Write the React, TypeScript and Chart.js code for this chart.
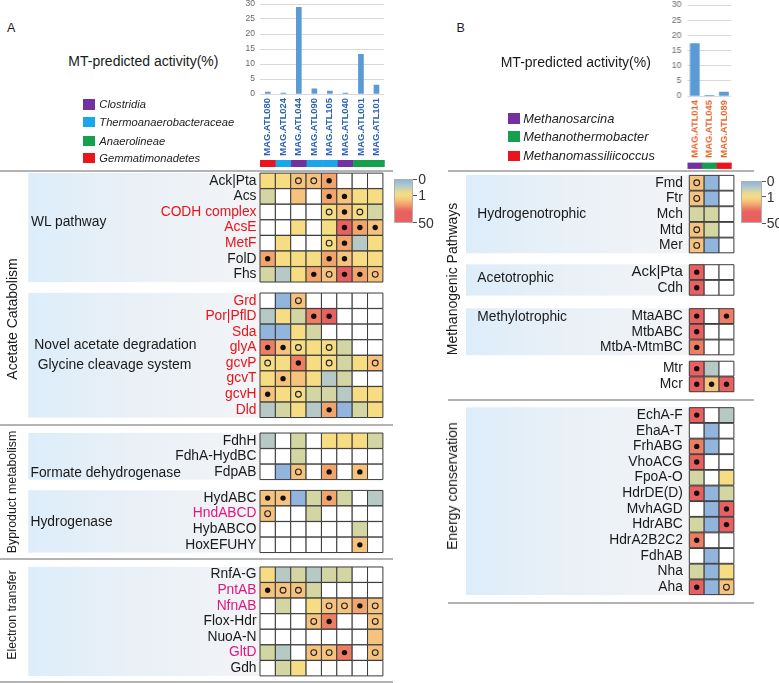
import React, { useEffect, useRef } from "react";
import { Chart, registerables } from "chart.js";

Chart.register(...registerables);

const FONT = '"Liberation Sans", Arial, Helvetica, sans-serif';
Chart.defaults.font.family = FONT;

// ---------------- Panel A: MT-predicted activity ----------------
const magsA = ["MAG.ATL080", "MAG.ATL024", "MAG.ATL044", "MAG.ATL090", "MAG.ATL105", "MAG.ATL040", "MAG.ATL001", "MAG.ATL101"];
const activityA = [0.6, 0.3, 28.9, 1.7, 1.0, 0.3, 13.2, 3.0];
const taxaA = ["Gemmatimonadetes", "Thermoanaerobacteraceae", "Clostridia", "Thermoanaerobacteraceae", "Thermoanaerobacteraceae", "Clostridia", "Anaerolineae", "Anaerolineae"];
const legendA = ["Clostridia", "Thermoanaerobacteraceae", "Anaerolineae", "Gemmatimonadetes"];

// ---------------- Panel B: MT-predicted activity ----------------
const magsB = ["MAG.ATL014", "MAG.ATL045", "MAG.ATL089"];
const activityB = [17.3, 0.2, 1.3];
const taxaB = ["Methanosarcina", "Methanothermobacter", "Methanomassiliicoccus"];
const legendB = ["Methanosarcina", "Methanothermobacter", "Methanomassiliicoccus"];

const activityTicks = [0, 5, 10, 15, 20, 25, 30];
const colorbarLabels = ["0", "1", "50"];

const taxonColors: Record<string, string> = {
  Clostridia: "#7331a0",
  Thermoanaerobacteraceae: "#19a7ea",
  Anaerolineae: "#16a04d",
  Gemmatimonadetes: "#e8151f",
  Methanosarcina: "#7331a0",
  Methanothermobacter: "#16a04d",
  Methanomassiliicoccus: "#e8151f",
};

// expression level -> colour (0 = not present)
const levelColors = ["#ffffff", "#92b5dd", "#b6c9c5", "#d3d6a2", "#f6dc83", "#f5c37e", "#f1a46c", "#ee7e63", "#e8605f"];
const toneColors: Record<string, string> = { k: "#1a1a1a", r: "#e8141c", m: "#e0187f" };

// ---------------- Panel A heatmap ----------------
const wlGenes = ["Ack|Pta", "Acs", "CODH complex", "AcsE", "MetF", "FolD", "Fhs"];
const wlTone = ["k", "k", "r", "r", "r", "k", "k"];
const wlLevels = [
  [4, 4, 5, 5, 6, 0, 0, 0],
  [3, 0, 5, 0, 6, 5, 4, 4],
  [0, 0, 0, 0, 4, 5, 4, 3],
  [0, 0, 4, 0, 4, 8, 6, 5],
  [0, 4, 0, 0, 4, 6, 2, 4],
  [6, 4, 4, 4, 6, 5, 4, 4],
  [3, 2, 4, 6, 5, 8, 6, 5],
];
const wlDots = [
  [0, 0, 1, 1, 2, 0, 0, 0],
  [0, 0, 0, 0, 2, 2, 0, 0],
  [0, 0, 0, 0, 1, 2, 1, 0],
  [0, 0, 0, 0, 0, 2, 2, 2],
  [0, 0, 0, 0, 1, 2, 0, 0],
  [2, 0, 0, 0, 2, 2, 0, 0],
  [0, 0, 0, 2, 1, 2, 2, 1],
];

const glyGenes = ["Grd", "Por|PflD", "Sda", "glyA", "gcvP", "gcvT", "gcvH", "Dld"];
const glyTone = ["r", "r", "r", "r", "r", "r", "r", "r"];
const glyLevels = [
  [0, 1, 5, 0, 0, 0, 0, 0],
  [2, 4, 3, 7, 8, 0, 0, 0],
  [1, 1, 4, 3, 0, 0, 0, 0],
  [7, 5, 4, 4, 4, 3, 0, 0],
  [4, 4, 7, 4, 4, 3, 4, 5],
  [4, 5, 5, 4, 2, 3, 0, 0],
  [5, 4, 4, 3, 3, 2, 4, 4],
  [2, 3, 4, 2, 6, 1, 3, 4],
];
const glyDots = [
  [0, 0, 1, 0, 0, 0, 0, 0],
  [0, 0, 0, 2, 2, 0, 0, 0],
  [0, 0, 0, 0, 0, 0, 0, 0],
  [2, 2, 1, 0, 1, 0, 0, 0],
  [1, 0, 2, 0, 1, 0, 0, 1],
  [0, 2, 0, 0, 0, 0, 0, 0],
  [2, 0, 1, 0, 0, 0, 0, 0],
  [0, 0, 0, 0, 2, 0, 0, 0],
];

const fdhGenes = ["FdhH", "FdhA-HydBC", "FdpAB"];
const fdhTone = ["k", "k", "k"];
const fdhLevels = [
  [2, 0, 3, 0, 4, 4, 4, 3],
  [0, 0, 3, 0, 0, 0, 0, 0],
  [0, 1, 5, 0, 6, 0, 5, 0],
];
const fdhDots = [
  [0, 0, 0, 0, 0, 0, 0, 0],
  [0, 0, 0, 0, 0, 0, 0, 0],
  [0, 0, 1, 0, 2, 0, 2, 0],
];

const hydGenes = ["HydABC", "HndABCD", "HybABCO", "HoxEFUHY"];
const hydTone = ["k", "m", "k", "k"];
const hydLevels = [
  [5, 5, 1, 3, 6, 3, 0, 2],
  [5, 0, 0, 3, 0, 0, 0, 0],
  [0, 0, 0, 0, 0, 0, 3, 0],
  [0, 0, 0, 0, 0, 0, 5, 0],
];
const hydDots = [
  [2, 2, 0, 0, 2, 0, 0, 0],
  [1, 0, 0, 0, 0, 0, 0, 0],
  [0, 0, 0, 0, 0, 0, 0, 0],
  [0, 0, 0, 0, 0, 0, 2, 0],
];

const etGenes = ["RnfA-G", "PntAB", "NfnAB", "Flox-Hdr", "NuoA-N", "GltD", "Gdh"];
const etTone = ["k", "m", "m", "k", "k", "m", "k"];
const etLevels = [
  [4, 2, 3, 2, 3, 3, 0, 0],
  [5, 5, 5, 3, 0, 0, 0, 0],
  [0, 3, 0, 4, 5, 5, 6, 5],
  [0, 0, 0, 5, 7, 0, 0, 5],
  [0, 0, 0, 0, 0, 0, 0, 5],
  [3, 2, 0, 5, 5, 7, 0, 5],
  [0, 3, 4, 0, 0, 0, 0, 0],
];
const etDots = [
  [0, 0, 0, 0, 0, 0, 0, 0],
  [2, 1, 1, 0, 0, 0, 0, 0],
  [0, 0, 0, 0, 1, 1, 2, 1],
  [0, 0, 0, 1, 2, 0, 0, 1],
  [0, 0, 0, 0, 0, 0, 0, 0],
  [0, 0, 0, 1, 1, 2, 0, 1],
  [0, 0, 0, 0, 0, 0, 0, 0],
];

// ---------------- Panel B heatmap ----------------
const hgGenes = ["Fmd", "Ftr", "Mch", "Mtd", "Mer"];
const hgLevels = [[5, 1, 0], [5, 1, 0], [3, 3, 0], [5, 3, 0], [5, 1, 0]];
const hgDots = [[1, 0, 0], [1, 0, 0], [0, 0, 0], [1, 0, 0], [1, 0, 0]];

const acGenes = ["Ack|Pta", "Cdh"];
const acLevels = [[8, 0, 0], [8, 0, 0]];
const acDots = [[2, 0, 0], [2, 0, 0]];

const meGenes = ["MtaABC", "MtbABC", "MtbA-MtmBC"];
const meLevels = [[8, 0, 7], [8, 0, 0], [7, 0, 0]];
const meDots = [[2, 0, 2], [2, 0, 0], [2, 0, 0]];

const mcGenes = ["Mtr", "Mcr"];
const mcLevels = [[8, 2, 0], [8, 5, 8]];
const mcDots = [[2, 0, 0], [2, 2, 2]];

const ecGenes = ["EchA-F", "EhaA-T", "FrhABG", "VhoACG", "FpoA-O", "HdrDE(D)", "MvhAGD", "HdrABC", "HdrA2B2C2", "FdhAB", "Nha", "Aha"];
const ecLevels = [
  [8, 0, 2], [0, 1, 0], [7, 1, 0], [8, 0, 0], [3, 0, 4], [8, 1, 3],
  [0, 1, 8], [3, 1, 8], [7, 0, 0], [0, 1, 0], [3, 1, 4], [8, 1, 5],
];
const ecDots = [
  [2, 0, 0], [0, 0, 0], [2, 0, 0], [2, 0, 0], [0, 0, 0], [2, 0, 0],
  [0, 0, 2], [0, 0, 2], [2, 0, 0], [0, 0, 0], [0, 0, 0], [2, 0, 1],
];

const allK = (n: number) => new Array(n).fill("k");

const sectionsA = [
  { genes: wlGenes, tone: wlTone, levels: wlLevels, dots: wlDots, bg: true },
  { genes: glyGenes, tone: glyTone, levels: glyLevels, dots: glyDots, bg: true },
  { genes: fdhGenes, tone: fdhTone, levels: fdhLevels, dots: fdhDots, bg: true },
  { genes: hydGenes, tone: hydTone, levels: hydLevels, dots: hydDots, bg: true },
  { genes: etGenes, tone: etTone, levels: etLevels, dots: etDots, bg: true },
];
const sectionsB = [
  { genes: hgGenes, tone: allK(5), levels: hgLevels, dots: hgDots, bg: true },
  { genes: acGenes, tone: allK(2), levels: acLevels, dots: acDots, bg: true, sizes: [15, 13.8] },
  { genes: meGenes, tone: allK(3), levels: meLevels, dots: meDots, bg: true },
  { genes: mcGenes, tone: allK(2), levels: mcLevels, dots: mcDots, bg: false },
  { genes: ecGenes, tone: allK(12), levels: ecLevels, dots: ecDots, bg: true },
];

// ---------------- layout (pixels) ----------------
const BAR_COLOR = "#5b9bd5";
const GENE_SIZE = 13.8;
const barLayoutA = { left: 220, plotLeft: 260, plotRight: 388, plotTop: 4, plotBottom: 94, stripTop: 160, stripH: 7, padRight: 4, barThickness: 5, tickPad: 5, labelColor: "#2b63b0" };
const barLayoutB = { left: 640, plotLeft: 687, plotRight: 735.5, plotTop: 4.7, plotBottom: 95.7, stripTop: 162.3, stripH: 6.3, padRight: 4, barThickness: 9, tickPad: 6, labelColor: "#e8652a" };
const heatLayoutA = { left: 0, plotLeft: 260, plotRight: 385, plotTop: 173.3, plotBottom: 676.5, gaps: [0.69, 0.98, 0.68, 0.91], bgLeft: 28.3, labelPad: 3.5, cols: 8 };
const heatLayoutB = { left: 440, plotLeft: 689.3, plotRight: 736, plotTop: 175, plotBottom: 595, gaps: [0.71, 0.81, 0.36, 0.97], bgLeft: 466, labelPad: 6.5, cols: 3 };

function BarPanel({ labels, values, taxa, lay }: any) {
  const ref = useRef<HTMLCanvasElement>(null);
  const PADT = 14, XH = 64, PADB = 16;
  const width = lay.plotRight + lay.padRight - lay.left;
  const height = PADT + (lay.plotBottom - lay.plotTop) + XH + PADB;
  useEffect(() => {
    const c = ref.current;
    if (!c) return;
    const stripOffset = lay.stripTop - lay.plotBottom;
    const stripPlugin = {
      id: "taxonStrip",
      afterDraw(chart: any) {
        const ctx = chart.ctx;
        const xs = chart.scales.x;
        const w = xs.width / taxa.length;
        taxa.forEach((t: string, i: number) => {
          const cx = xs.getPixelForValue(i);
          ctx.fillStyle = taxonColors[t];
          ctx.fillRect(cx - w / 2, chart.chartArea.bottom + stripOffset, w + 0.5, lay.stripH);
        });
      },
    };
    const chart = new Chart(c, {
      type: "bar",
      data: {
        labels,
        datasets: [{ data: values, backgroundColor: BAR_COLOR, barThickness: lay.barThickness, borderWidth: 0 }],
      },
      options: {
        responsive: false,
        animation: false,
        events: [],
        layout: { padding: { top: PADT, bottom: PADB, left: 0, right: lay.padRight } },
        plugins: { legend: { display: false }, tooltip: { enabled: false } },
        scales: {
          x: {
            grid: { display: false, drawTicks: false },
            border: { display: false },
            ticks: {
              color: lay.labelColor,
              font: { family: FONT, size: 9.4, weight: "bold" },
              minRotation: 90,
              maxRotation: 90,
              padding: 4,
              autoSkip: false,
            },
            afterFit: (s: any) => { s.height = XH; },
          },
          y: {
            min: 0,
            max: 30,
            afterBuildTicks: (s: any) => { s.ticks = activityTicks.map((v) => ({ value: v })); },
            grid: { color: "#d9d9d9", drawTicks: false },
            border: { display: false },
            ticks: { color: "#666666", font: { family: FONT, size: 8.5 }, padding: lay.tickPad },
            afterFit: (s: any) => { s.width = lay.plotLeft - lay.left; },
          },
        },
      } as any,
      plugins: [stripPlugin],
    });
    return () => chart.destroy();
  }, []);
  return (
    <canvas
      ref={ref}
      width={width}
      height={height}
      style={{ position: "absolute", left: lay.left, top: lay.plotTop - PADT, width, height }}
    />
  );
}

function Heatmap({ sections, lay }: any) {
  const ref = useRef<HTMLCanvasElement>(null);
  const PADT = 16, PADB = 16, PADR = 3;
  const width = lay.plotRight + PADR - lay.left;
  const height = PADT + (lay.plotBottom - lay.plotTop) + PADB;
  useEffect(() => {
    const c = ref.current;
    if (!c) return;
    const rows: any[] = [];
    const spans: any[] = [];
    let off = 0;
    sections.forEach((s: any, si: number) => {
      if (si > 0) off += lay.gaps[si - 1];
      const start = off;
      s.genes.forEach((g: string, gi: number) => {
        rows.push({ name: g, y: off + gi + 0.5, color: toneColors[s.tone[gi]], size: s.sizes ? s.sizes[gi] : GENE_SIZE });
      });
      off += s.genes.length;
      spans.push({ start, end: off, bg: s.bg });
    });
    const total = off;
    const cells: any[] = [];
    const dots: any[] = [];
    let r = 0;
    sections.forEach((s: any) => {
      s.levels.forEach((row: number[], gi: number) => {
        const y = rows[r].y;
        row.forEach((v: number, ci: number) => {
          cells.push({ x: ci + 0.5, y, v });
          const d = s.dots[gi][ci];
          if (d) dots.push({ x: ci + 0.5, y, k: d });
        });
        r++;
      });
    });
    const bgPlugin = {
      id: "sectionBg",
      beforeDraw(chart: any) {
        const { ctx, chartArea } = chart;
        const ys = chart.scales.y;
        const x0 = lay.bgLeft - lay.left;
        const x1 = chartArea.left;
        spans.forEach((sp: any) => {
          if (!sp.bg) return;
          const t = ys.getPixelForValue(sp.start);
          const b = ys.getPixelForValue(sp.end);
          const g = ctx.createLinearGradient(x0, 0, x1, 0);
          g.addColorStop(0, "#dcedfa");
          g.addColorStop(0.45, "#e9f0f6");
          g.addColorStop(1, "#f3f4f6");
          ctx.fillStyle = g;
          ctx.fillRect(x0, t, x1 - x0, b - t);
        });
      },
    };
    const cellHalf = (chart: any) => {
      const xs = chart.scales.x;
      return (xs.getPixelForValue(1) - xs.getPixelForValue(0)) / Math.SQRT2;
    };
    const chart = new Chart(c, {
      type: "scatter",
      data: {
        datasets: [
          {
            label: "dots",
            data: dots,
            order: 0,
            clip: false,
            pointStyle: "circle",
            pointRadius: (ctx: any) => (ctx.raw && ctx.raw.k === 2 ? 2.7 : 2.9),
            pointBackgroundColor: (ctx: any) => (ctx.raw && ctx.raw.k === 2 ? "#111111" : "rgba(0,0,0,0)"),
            pointBorderColor: "#222222",
            pointBorderWidth: (ctx: any) => (ctx.raw && ctx.raw.k === 2 ? 0 : 1.1),
          },
          {
            label: "cells",
            data: cells,
            order: 1,
            clip: false,
            pointStyle: "rect",
            pointRadius: (ctx: any) => cellHalf(ctx.chart),
            pointBackgroundColor: (ctx: any) => levelColors[ctx.raw ? ctx.raw.v : 0],
            pointBorderColor: "#3a3a3a",
            pointBorderWidth: 1,
          },
        ],
      },
      options: {
        responsive: false,
        animation: false,
        events: [],
        layout: { padding: { top: PADT, bottom: PADB, left: 0, right: PADR } },
        plugins: { legend: { display: false }, tooltip: { enabled: false } },
        scales: {
          x: { type: "linear", min: 0, max: lay.cols, bounds: "data", display: false },
          y: {
            type: "linear",
            reverse: true,
            min: 0,
            max: total,
            bounds: "data",
            afterBuildTicks: (s: any) => { s.ticks = rows.map((row) => ({ value: row.y })); },
            afterFit: (s: any) => { s.width = lay.plotLeft - lay.left; },
            grid: { display: false, drawTicks: false },
            border: { display: false },
            ticks: {
              autoSkip: false,
              padding: lay.labelPad,
              callback: (_v: any, i: number) => (rows[i] ? rows[i].name : ""),
              color: (ctx: any) => (rows[ctx.index] ? rows[ctx.index].color : "#1a1a1a"),
              font: (ctx: any) => ({ family: FONT, size: rows[ctx.index] ? rows[ctx.index].size : GENE_SIZE }),
            },
          },
        },
      } as any,
      plugins: [bgPlugin],
    });
    return () => chart.destroy();
  }, []);
  return (
    <canvas
      ref={ref}
      width={width}
      height={height}
      style={{ position: "absolute", left: lay.left, top: lay.plotTop - PADT, width, height }}
    />
  );
}

function Colorbar({ left, top, w, h }: any) {
  const pos = [0, 0.37, 1];
  return (
    <>
      <div
        style={{
          position: "absolute", left, top, width: w, height: h, boxSizing: "border-box",
          border: "1px solid #b0b0b0",
          background: "linear-gradient(to bottom, #8fb4de 0%, #b9cbc4 15%, #e6da92 28%, #f6dc80 37%, #f5c37a 48%, #f09a6a 60%, #eb7060 70%, #e8605f 77%, #e8605f 100%)",
        }}
      />
      {colorbarLabels.map((l, i) => (
        <React.Fragment key={l}>
          <div style={{ position: "absolute", left: left + w, top: top + pos[i] * h - 0.5, width: 4, height: 1, background: "#555" }} />
          <div style={{ position: "absolute", left: left + w + 5, top: top + pos[i] * h - 8, fontSize: 14, lineHeight: "16px", color: "#333" }}>{l}</div>
        </React.Fragment>
      ))}
    </>
  );
}

const plainTexts = [
  { t: "A", x: 7, cy: 28, size: 12.5 },
  { t: "B", x: 456.5, cy: 28.3, size: 12.5 },
  { t: "MT-predicted activity(%)", x: 68.3, cy: 61, size: 14 },
  { t: "MT-predicted activity(%)", x: 500.7, cy: 61.7, size: 14 },
  { t: "WL pathway", x: 31, cy: 222.3, size: 13.8 },
  { t: "Novel acetate degradation", x: 34.3, cy: 344, size: 13.9 },
  { t: "Glycine cleavage system", x: 37.7, cy: 364, size: 13.9 },
  { t: "Formate dehydrogenase", x: 30.5, cy: 473.3, size: 13.8 },
  { t: "Hydrogenase", x: 30.5, cy: 521.7, size: 13.8 },
  { t: "Hydrogenotrophic", x: 477.3, cy: 214.3, size: 13.8 },
  { t: "Acetotrophic", x: 477.3, cy: 278.3, size: 13.8 },
  { t: "Methylotrophic", x: 477.3, cy: 316.7, size: 13.8 },
];
const rotatedTexts = [
  { t: "Acetate Catabolism", cx: 11.5, cy: 318.5, size: 14 },
  { t: "Byproduct metabolism", cx: 11.5, cy: 492, size: 12.4 },
  { t: "Electron transfer", cx: 11.8, cy: 614.5, size: 12.2 },
  { t: "Methanogenic Pathways", cx: 452, cy: 279, size: 14 },
  { t: "Energy conservation", cx: 452, cy: 486, size: 14 },
];
const separators = [
  { y: 171, x0: 0, x1: 393 },
  { y: 425, x0: 0, x1: 393 },
  { y: 559, x0: 0, x1: 393 },
  { y: 682, x0: 0, x1: 393 },
  { y: 171, x0: 448, x1: 754 },
  { y: 399.5, x0: 448, x1: 754 },
  { y: 602.5, x0: 448, x1: 754 },
];
const legendLayoutA = { sqLeft: 83.3, sqW: 11.7, sqH: 10.5, textLeft: 99.3, size: 11.2, cys: [104.3, 122, 141, 157.8] };
const legendLayoutB = { sqLeft: 508.3, sqW: 11.7, sqH: 10.7, textLeft: 523.3, size: 12.8, cys: [118.5, 136.7, 156] };

function Legend({ items, lay }: any) {
  return (
    <>
      {items.map((name: string, i: number) => (
        <React.Fragment key={name}>
          <div style={{ position: "absolute", left: lay.sqLeft, top: lay.cys[i] - lay.sqH / 2, width: lay.sqW, height: lay.sqH, background: taxonColors[name] }} />
          <div style={{ position: "absolute", left: lay.textLeft, top: lay.cys[i] - 8, lineHeight: "16px", fontSize: lay.size, fontStyle: "italic", color: "#222", whiteSpace: "nowrap" }}>{name}</div>
        </React.Fragment>
      ))}
    </>
  );
}

export default function App() {
  return (
    <div
      style={{
        position: "absolute", left: 0, top: 0, width: 779, height: 683, overflow: "hidden",
        background: "#ffffff", fontFamily: FONT, color: "#1a1a1a",
      }}
    >
      <Heatmap sections={sectionsA} lay={heatLayoutA} />
      <Heatmap sections={sectionsB} lay={heatLayoutB} />
      <BarPanel labels={magsA} values={activityA} taxa={taxaA} lay={barLayoutA} />
      <BarPanel labels={magsB} values={activityB} taxa={taxaB} lay={barLayoutB} />
      {separators.map((s, i) => (
        <div key={i} style={{ position: "absolute", left: s.x0, top: s.y - 1, width: s.x1 - s.x0, height: 2, background: "#b3b3b3" }} />
      ))}
      {plainTexts.map((p, i) => (
        <div key={i} style={{ position: "absolute", left: p.x, top: p.cy - 9, lineHeight: "18px", fontSize: p.size, whiteSpace: "nowrap" }}>{p.t}</div>
      ))}
      {rotatedTexts.map((p, i) => (
        <div
          key={i}
          style={{
            position: "absolute", left: p.cx, top: p.cy, fontSize: p.size, lineHeight: "16px", whiteSpace: "nowrap",
            transform: "translate(-50%, -50%) rotate(-90deg)",
          }}
        >
          {p.t}
        </div>
      ))}
      <Legend items={legendA} lay={legendLayoutA} />
      <Legend items={legendB} lay={legendLayoutB} />
      <Colorbar left={394.3} top={179.3} w={19} h={43.4} />
      <Colorbar left={741} top={181} w={20.7} h={42.3} />
    </div>
  );
}
